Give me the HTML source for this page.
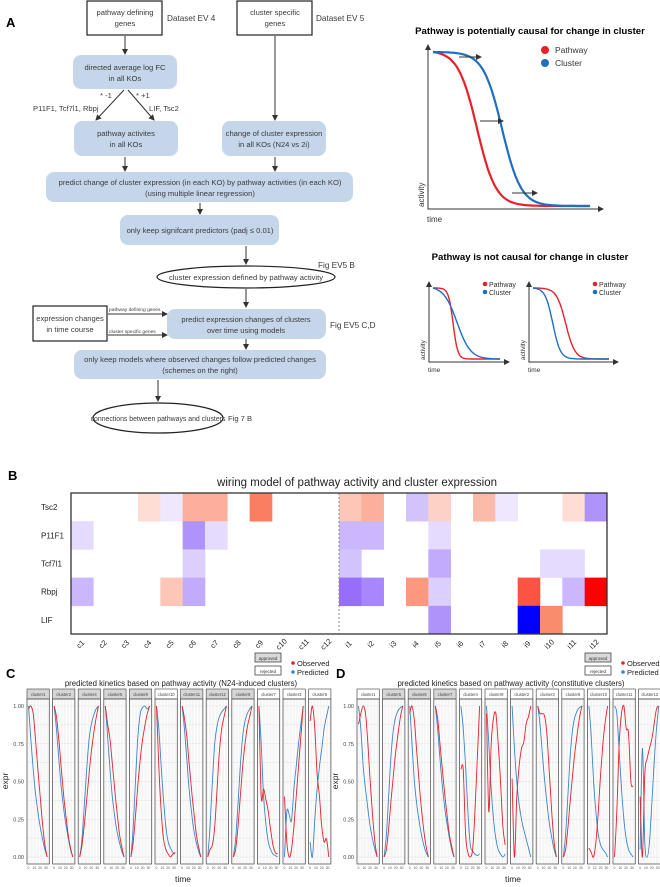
<!DOCTYPE html>
<html><head><meta charset="utf-8">
<style>
body{margin:0;background:#fff}
svg{display:block;font-family:"Liberation Sans",sans-serif}
.ft{font-size:7.6px;fill:#3a3a3a;text-anchor:middle}
.fl{fill:#3a3a3a}
.bx{fill:#c6d6ea}
</style></head><body>
<svg id="fig" width="660" height="887" viewBox="0 0 660 887" xmlns="http://www.w3.org/2000/svg">
<defs><marker id="ar" markerWidth="6" markerHeight="6" refX="5" refY="3" orient="auto"><path d="M0,0 L6,3 L0,6 z" fill="#333"/></marker></defs>

<g>
<text x="6" y="27" font-size="13" font-weight="bold">A</text>
<rect x="87" y="1" width="75" height="34" fill="#fff" stroke="#222" stroke-width="1.2"/>
<text class="ft" x="125" y="15">pathway defining</text><text class="ft" x="125" y="26">genes</text>
<text class="fl" x="167" y="21" style="font-size:8.2px">Dataset EV 4</text>
<rect x="237" y="1" width="75" height="34" fill="#fff" stroke="#222" stroke-width="1.2"/>
<text class="ft" x="275" y="15">cluster specific</text><text class="ft" x="275" y="26">genes</text>
<text class="fl" x="316" y="21" style="font-size:8.2px">Dataset EV 5</text>
<line x1="125" y1="36" x2="125" y2="54" stroke="#333" marker-end="url(#ar)"/>
<rect class="bx" x="73" y="55" width="104" height="34" rx="8"/>
<text class="ft" x="125" y="70">directed average log FC</text><text class="ft" x="125" y="81">in all KOs</text>
<line x1="124" y1="90" x2="96" y2="120" stroke="#333" marker-end="url(#ar)"/>
<line x1="128" y1="90" x2="154" y2="120" stroke="#333" marker-end="url(#ar)"/>
<text class="fl" x="100" y="98" style="font-size:7.6px">* -1</text><text class="fl" x="136" y="98" style="font-size:7.6px">* +1</text>
<text class="fl" x="33" y="111" style="font-size:7.6px">P11F1, Tcf7l1, Rbpj</text><text class="fl" x="149" y="111" style="font-size:7.6px">LIF, Tsc2</text>
<rect class="bx" x="74" y="121" width="104" height="35" rx="8"/>
<text class="ft" x="126" y="136">pathway activites</text><text class="ft" x="126" y="147">in all KOs</text>
<line x1="275" y1="36" x2="275" y2="120" stroke="#333" marker-end="url(#ar)"/>
<rect class="bx" x="222" y="121" width="104" height="35" rx="8"/>
<text class="ft" x="274" y="136">change of cluster expression</text><text class="ft" x="274" y="147">in all KOs (N24 vs 2i)</text>
<line x1="125" y1="157" x2="125" y2="171" stroke="#333" marker-end="url(#ar)"/>
<line x1="275" y1="157" x2="275" y2="171" stroke="#333" marker-end="url(#ar)"/>
<rect class="bx" x="46" y="172" width="307" height="30" rx="8"/>
<text class="ft" x="200" y="185">predict change of cluster expression (in each KO) by pathway activities (in each KO)</text>
<text class="ft" x="200" y="196">(using multiple linear regression)</text>
<line x1="200" y1="203" x2="200" y2="214" stroke="#333" marker-end="url(#ar)"/>
<rect class="bx" x="120" y="215" width="159" height="30" rx="8"/>
<text class="ft" x="200" y="233">only keep signifcant predictors (padj ≤ 0.01)</text>
<line x1="246" y1="246" x2="246" y2="264" stroke="#333" marker-end="url(#ar)"/>
<text class="fl" x="318" y="268" style="font-size:8.2px">Fig EV5 B</text>
<ellipse cx="246" cy="277" rx="89" ry="11" fill="#fff" stroke="#222" stroke-width="1.2"/>
<text class="ft" x="246" y="280">cluster expression defined by pathway activity</text>
<line x1="246" y1="289" x2="246" y2="307" stroke="#333" marker-end="url(#ar)"/>
<rect x="33" y="306" width="74" height="35" fill="#fff" stroke="#222" stroke-width="1.2"/>
<text class="ft" x="70" y="321">expression changes</text><text class="ft" x="70" y="332">in time course</text>
<line x1="108" y1="314" x2="167" y2="314" stroke="#333" marker-end="url(#ar)"/>
<line x1="108" y1="335" x2="167" y2="335" stroke="#333" marker-end="url(#ar)"/>
<text class="fl" x="109" y="311" style="font-size:4.9px">pathway defining genes</text>
<text class="fl" x="109" y="333" style="font-size:4.9px">cluster specific genes</text>
<rect class="bx" x="167" y="309" width="159" height="30" rx="8"/>
<text class="ft" x="246" y="322">predict expression changes of clusters</text><text class="ft" x="246" y="333">over time using models</text>
<text class="fl" x="330" y="328" style="font-size:8.2px">Fig EV5 C,D</text>
<line x1="246" y1="339" x2="246" y2="349" stroke="#333" marker-end="url(#ar)"/>
<rect class="bx" x="74" y="350" width="252" height="29" rx="8"/>
<text class="ft" x="200" y="362">only keep models where observed changes follow predicted changes</text>
<text class="ft" x="200" y="373">(schemes on the right)</text>
<line x1="158" y1="380" x2="158" y2="401" stroke="#333" marker-end="url(#ar)"/>
<ellipse cx="158" cy="418" rx="65" ry="15" fill="#fff" stroke="#222" stroke-width="1.2"/>
<text class="ft" x="158" y="421" style="font-size:6.9px">connections between pathways and clusters</text>
<text class="fl" x="228" y="421" style="font-size:7.6px">Fig 7 B</text>
</g>

<g id="schem">
<text x="530" y="34" font-size="9.6" font-weight="bold" text-anchor="middle">Pathway is potentially causal for change in cluster</text>
<text x="530" y="260" font-size="9.6" font-weight="bold" text-anchor="middle">Pathway is not causal for change in cluster</text>
</g>

<g id="heat">
<text x="8" y="480" font-size="13" font-weight="bold">B</text>
<text x="357" y="486" font-size="11.5" text-anchor="middle" fill="#222">wiring model of pathway activity and cluster expression</text>
</g>
<g id="pc"></g>
<g id="pd"></g>
</svg>
<script>
const NS="http://www.w3.org/2000/svg";
function mk(p,tag,at,txt){const e=document.createElementNS(NS,tag);for(const k in at)e.setAttribute(k,at[k]);if(txt!=null)e.textContent=txt;p.appendChild(e);return e;}

/* ---------- heatmap data ---------- */
const hmRows=["Tsc2","P11F1","Tcf7l1","Rbpj","LIF"];
const hmCols=["c1","c2","c3","c4","c5","c6","c7","c8","c9","c10","c11","c12","i1","i2","i3","i4","i5","i6","i7","i8","i9","i10","i11","i12"];
const hmTsc2  =[0,0,0,0.15,-0.1,0.35,0.35,0,0.55,0,0,0,0.25,0.35,0,-0.25,0.2,0,0.3,-0.1,0,0,0.15,-0.45];
const hmP11F1 =[-0.15,0,0,0,0,-0.45,-0.15,0,0,0,0,0,-0.3,-0.3,0,0,-0.15,0,0,0,0,0,0,0];
const hmTcf7l1=[0,0,0,0,0,-0.2,0,0,0,0,0,0,-0.25,0,0,0,-0.35,0,0,0,0,-0.15,-0.15,0];
const hmRbpj  =[-0.3,0,0,0,0.25,-0.35,0,0,0,0,0,0,-0.6,-0.5,0,0.45,-0.2,0,0,0,0.7,0,-0.3,1.0];
const hmLIF   =[0,0,0,0,0,0,0,0,0,0,0,0,0,0,0,0,-0.45,0,0,0,-1.0,0.5,0,0];
const hmVals=[hmTsc2,hmP11F1,hmTcf7l1,hmRbpj,hmLIF];

function lerp(a,b,t){return a.map((v,i)=>Math.round(v+(b[i]-v)*t));}
function hcol(v){
  if(v>0){return v<0.5?lerp([255,255,255],[250,140,110],v/0.5):lerp([250,140,110],[255,0,0],(v-0.5)/0.5);}
  const a=-v;return a<0.6?lerp([255,255,255],[150,110,250],a/0.6):lerp([150,110,250],[0,0,255],(a-0.6)/0.4);
}
(function(){
  const g=document.getElementById('heat');
  const X0=71,X1=607,Y0=493,Y1=634;
  const cw=(X1-X0)/hmCols.length, rh=(Y1-Y0)/hmRows.length;
  const xs=i=>X0+i*cw, ys=j=>Y0+j*rh;
  hmVals.forEach((row,j)=>{
    row.forEach((v,i)=>{
      if(v===0)return;
      const c=hcol(v);
      const r=mk(g,'rect',{x:xs(i),y:ys(j),width:cw+0.3,height:rh+0.3,fill:`rgb(${c})`});
      
      
    });
    const t=mk(g,'text',{x:41,y:ys(j)+rh/2+3,'font-size':8,fill:'#222'},hmRows[j]);
    
    
  });
  hmCols.forEach((c,i)=>{
    const x=xs(i)+cw/2, y=646;
    const t=mk(g,'text',{x:x,y:y,'font-size':7.5,fill:'#222','text-anchor':'middle',transform:`rotate(-45 ${x} ${y})`},c);
    
    
  });
  const d=mk(g,'line',{x1:xs(12),x2:xs(12),y1:Y0,y2:Y1,stroke:'#888','stroke-dasharray':'2,2'});
  
  
  const b=mk(g,'rect',{x:X0,y:Y0,width:X1-X0,height:Y1-Y0,fill:'none',stroke:'#333','stroke-width':1.3});
  
  
})();

/* ---------- schematics ---------- */
const sig=(t,c,k)=>1/(1+Math.exp((t-c)/k));
function schematic(g,x0,y0,x1,y1,redC,redK,blueC,blueK,big,name){
  const ax=mk(g,'path',{d:`M${x0},${y0} L${x0},${y1} L${x1},${y1}`,fill:'none',stroke:'#333','stroke-width':1,'marker-end':'url(#ar)'});
  mk(g,'line',{x1:x0,y1:y1,x2:x0,y2:y0,stroke:'#333','marker-end':'url(#ar)'});
  
  
  const top=y0+(big?7:6), bot=y1-3, l=x0+(big?5:4), r=x1-(big?13:9);
  [[redC,redK,'#e8202a','pathway'],[blueC,blueK,'#1e6fbf','cluster']].forEach(([c,k,col,nm])=>{
    let d='';for(let i=0;i<=80;i++){const t=i/80;const v=sig(t,c,k);const s0=sig(0,c,k),s1=sig(1,c,k);const vv=(v-s1)/(s0-s1);
      d+=(i?'L':'M')+(l+t*(r-l)).toFixed(1)+','+(bot-vv*(bot-top)).toFixed(1);}
    const p=mk(g,'path',{d:d,fill:'none',stroke:col,'stroke-width':big?2.2:1.4});
    
    
  });
  const fs=big?8:6.5;
  const a=mk(g,'text',{x:x0-4,y:y1-2,'font-size':fs,transform:`rotate(-90 ${x0-4} ${y1-2})`,fill:'#333'},'activity');
  
  const tt=mk(g,'text',{x:x0-1,y:y1+(big?13:10),'font-size':fs,fill:'#333'},'time');
  
  return {l,r,top,bot};
}
(function(){
  const g=document.getElementById('schem');
  schematic(g,428,45,603,209,0.28,0.06,0.44,0.06,true,'causal');
  mk(g,'line',{x1:459,y1:57,x2:481,y2:57,stroke:'#333','marker-end':'url(#ar)'});
  mk(g,'line',{x1:480,y1:121,x2:503,y2:121,stroke:'#333','marker-end':'url(#ar)'});
  mk(g,'line',{x1:512,y1:193,x2:537,y2:193,stroke:'#333','marker-end':'url(#ar)'});
  mk(g,'circle',{cx:545,cy:50,r:4,fill:'#e8202a'});mk(g,'text',{x:555,y:53,'font-size':8.5,fill:'#333'},'Pathway');
  mk(g,'circle',{cx:545,cy:63,r:4,fill:'#1e6fbf'});mk(g,'text',{x:555,y:66,'font-size':8.5,fill:'#333'},'Cluster');
  schematic(g,429,282,509,362,0.3,0.035,0.36,0.1,false,'noncausal-1');
  schematic(g,529,282,618,362,0.43,0.06,0.26,0.05,false,'noncausal-2');
  [[485,489],[595,599]].forEach(([cx,tx])=>{
    mk(g,'circle',{cx:cx,cy:284,r:2.3,fill:'#e8202a'});mk(g,'text',{x:tx,y:287,'font-size':7,fill:'#333'},'Pathway');
    mk(g,'circle',{cx:cx,cy:292,r:2.3,fill:'#1e6fbf'});mk(g,'text',{x:tx,y:295,'font-size':7,fill:'#333'},'Cluster');
  });
})();

/* ---------- kinetics data ---------- */
const times=[0,4,8,12,16,20,24,28,32];
const cNames=["cluster1","cluster2","cluster4","cluster5","cluster8","cluster10","cluster11","cluster12","cluster9","cluster7","cluster3","cluster6"];
const cApproved=[1,1,1,1,1,0,1,1,1,0,0,0];
const cObserved=[
[0.98,1,0.95,0.78,0.58,0.4,0.22,0.08,0],
[1,0.93,0.78,0.6,0.42,0.28,0.15,0.06,0],
[0,0.08,0.22,0.38,0.55,0.7,0.82,0.92,1],
[1,0.88,0.78,0.62,0.45,0.3,0.16,0.07,0],
[0,0.1,0.28,0.48,0.65,0.78,0.87,0.95,1],
[1,0.6,0.3,0.12,0.05,0.02,0,0.02,0.03],
[1,0.92,0.8,0.62,0.45,0.3,0.16,0.07,0],
[0,0.05,0.08,0.2,0.45,0.7,0.85,0.93,1],
[0,0.05,0.2,0.4,0.6,0.75,0.86,0.93,1],
[1,0.4,0.45,0.38,0.3,0.18,0.08,0.03,0.02],
[0.4,0.1,0,0.05,0.2,0.4,0.6,0.8,1],
[0.9,1,0.85,0.55,0.4,0.2,0.1,0.12,0]];
const cPredicted=[
[1,0.78,0.58,0.42,0.3,0.2,0.12,0.05,0],
[1,0.85,0.65,0.47,0.33,0.22,0.13,0.05,0],
[0,0.12,0.35,0.58,0.78,0.88,0.94,0.98,1],
[1,0.8,0.58,0.4,0.27,0.17,0.1,0.04,0],
[0,0.2,0.52,0.8,0.95,0.99,1,0.98,1],
[1,0.85,0.6,0.38,0.2,0.1,0.06,0.03,0.02],
[1,0.85,0.65,0.45,0.3,0.18,0.1,0.04,0],
[0,0.2,0.5,0.75,0.87,0.93,0.96,0.98,1],
[0,0.12,0.35,0.6,0.8,0.9,0.95,0.98,1],
[1,0.75,0.4,0.22,0.1,0.05,0.02,0.01,0],
[0,0.3,0.28,0.24,0.45,0.6,0.75,0.88,1],
[0.1,0,0.25,0.45,0.6,0.72,0.85,0.93,1]];
const dNames=["cluster1","cluster5","cluster6","cluster7","cluster4","cluster9","cluster2","cluster3","cluster8","cluster10","cluster11","cluster12"];
const dApproved=[0,1,1,1,0,0,0,0,0,0,0,0];
const dObserved=[
[0.88,0.95,1,0.95,0.75,0.5,0.28,0.1,0],
[0,0.05,0.2,0.38,0.55,0.7,0.82,0.93,1],
[0.95,1,0.9,0.7,0.5,0.32,0.18,0.07,0],
[1,0.92,0.75,0.58,0.42,0.28,0.15,0.07,0],
[0.58,0.58,0.15,0.03,0,0.05,0.3,0.65,1],
[0.95,0.3,0.75,0.92,0.95,0.75,0.5,0.2,0.08],
[0.52,0,0.4,0.6,0.72,0.76,0.88,0.93,1],
[1,0.95,0.95,0.93,0.8,0.55,0.3,0.1,0],
[0,0.05,0.2,0.38,0.55,0.7,0.82,0.93,1],
[0.06,0.03,0,0.1,0.3,0.55,0.75,0.9,1],
[0,0.3,0.75,0.95,1,0.85,0.82,0.5,0.47],
[0.4,0,0.55,0.65,0.72,0.78,0.88,0.98,1]];
const dPredicted=[
[1,0.85,0.6,0.45,0.32,0.2,0.12,0.05,0],
[0,0.15,0.42,0.68,0.85,0.93,0.97,0.99,1],
[1,0.75,0.5,0.35,0.24,0.15,0.08,0.03,0],
[1,0.85,0.65,0.47,0.33,0.22,0.13,0.05,0],
[1,0.85,0.6,0.3,0.08,0.04,0.02,0.01,0.02],
[1,0.75,0.45,0.25,0.12,0.05,0.02,0,0.02],
[1,0.72,0.5,0.35,0.25,0.18,0.12,0.06,0],
[1,0.88,0.68,0.5,0.35,0.22,0.13,0.05,0],
[0,0.15,0.42,0.68,0.85,0.93,0.97,0.99,1],
[1,0.8,0.5,0.3,0.15,0.08,0.05,0.03,0],
[1,0.95,0.7,0.45,0.25,0.12,0.05,0.02,0],
[0.05,0.72,0.1,0,0.1,0.35,0.62,0.85,1]];
const yTicks=[0,0.25,0.5,0.75,1];
const yTickLabels=["0.00","0.25","0.50","0.75","1.00"];
const xTicks=[0,10,20,30];

function smooth(pts){
  let d='M'+pts[0][0].toFixed(1)+','+pts[0][1].toFixed(1);
  for(let i=0;i<pts.length-1;i++){
    const p0=pts[Math.max(i-1,0)],p1=pts[i],p2=pts[i+1],p3=pts[Math.min(i+2,pts.length-1)];
    const c1=[p1[0]+(p2[0]-p0[0])/6,p1[1]+(p2[1]-p0[1])/6],c2=[p2[0]-(p3[0]-p1[0])/6,p2[1]-(p3[1]-p1[1])/6];
    d+=`C${c1[0].toFixed(1)},${c1[1].toFixed(1)} ${c2[0].toFixed(1)},${c2[1].toFixed(1)} ${p2[0].toFixed(1)},${p2[1].toFixed(1)}`;
  }
  return d;
}
function kinetics(gid,ox,label,title,names,approved,obs,pred){
  const g=document.getElementById(gid);
  const L=mk(g,'text',{x:ox+6,y:678,'font-size':13,'font-weight':'bold'},label);
  
  
  const T=mk(g,'text',{x:ox+181,y:686,'font-size':7.8,'text-anchor':'middle',fill:'#222'},title);
  
  
  const ap=mk(g,'rect',{x:ox+255,y:653,width:26,height:9,fill:'#d9d9d9',stroke:'#444','stroke-width':0.8});
  
  mk(g,'text',{x:ox+268,y:660,'font-size':4.5,'text-anchor':'middle',fill:'#333'},'approved');
  const rj=mk(g,'rect',{x:ox+255,y:666,width:26,height:9,fill:'#fff',stroke:'#444','stroke-width':0.8});
  
  mk(g,'text',{x:ox+268,y:673,'font-size':4.5,'text-anchor':'middle',fill:'#333'},'rejected');
  const lo=mk(g,'circle',{cx:ox+293,cy:663,r:1.8,fill:'#e8202a'});
  
  mk(g,'text',{x:ox+297,y:666,'font-size':7.5,fill:'#222'},'Observed');
  const lp=mk(g,'circle',{cx:ox+293,cy:672,r:1.8,fill:'#3a85c8'});
  
  mk(g,'text',{x:ox+297,y:675,'font-size':7.5,fill:'#222'},'Predicted');
  const yt=mk(g,'text',{x:ox+8,y:781,'font-size':8.5,'text-anchor':'middle',transform:`rotate(-90 ${ox+8} 781)`,fill:'#222'},'expr');
  
  const xt=mk(g,'text',{x:ox+183,y:882,'font-size':8.5,'text-anchor':'middle',fill:'#222'},'time');
  
  const PY0=699,PY1=864, y1v=706, y0v=857;
  const ys=v=>y0v-(v)*(y0v-y1v);
  yTicks.forEach((v,i)=>{
    const t=mk(g,'text',{x:ox+24,y:ys(v)+2,'font-size':5.5,'text-anchor':'end',fill:'#444'},yTickLabels[i]);
    
  });
  const step=25.6,pw=22.3;
  names.forEach((nm,k)=>{
    const px=ox+27+k*step;
    const xs=t=>px+1.5+(t/33)*(pw-3);
    const fg=mk(g,'g',{});
    
    
    mk(fg,'rect',{x:px,y:PY0,width:pw,height:PY1-PY0,fill:'#fff'});
    for(let t=0;t<=35;t+=2.5){mk(fg,'line',{x1:xs(t),x2:xs(t),y1:PY0,y2:PY1,stroke:'#ebebeb','stroke-width':0.5});}
    for(let v=0;v<=1.0001;v+=0.125){mk(fg,'line',{x1:px,x2:px+pw,y1:ys(v),y2:ys(v),stroke:'#e4e4e4','stroke-width':0.6});}
    mk(fg,'rect',{x:px,y:689,width:pw,height:10,fill:approved[k]?'#d6d6d6':'#fff',stroke:'#555','stroke-width':0.7});
    mk(fg,'text',{x:px+pw/2,y:696,'font-size':4.2,'text-anchor':'middle',fill:'#444'},nm);
    [[pred[k],'#3a85c8','predicted'],[obs[k],'#e8202a','observed']].forEach(([arr,col,sn])=>{
      const p=mk(fg,'path',{d:smooth(arr.map((v,i)=>[xs(times[i]),ys(v)])),fill:'none',stroke:col,'stroke-width':0.9});
      
      
    });
    mk(fg,'rect',{x:px,y:PY0,width:pw,height:PY1-PY0,fill:'none',stroke:'#555','stroke-width':0.8});
    xTicks.forEach(t=>{mk(fg,'text',{x:xs(t),y:869,'font-size':3.4,'text-anchor':'middle',fill:'#555'},String(t));});
  });
}
kinetics('pc',0,'C','predicted kinetics based on pathway activity (N24-induced clusters)',cNames,cApproved,cObserved,cPredicted);
kinetics('pd',330,'D','predicted kinetics based on pathway activity (constitutive clusters)',dNames,dApproved,dObserved,dPredicted);
</script>
</body></html>
